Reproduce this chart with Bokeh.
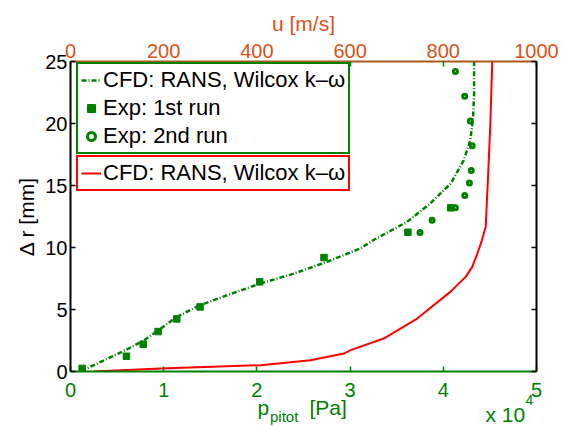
from bokeh.plotting import figure
from bokeh.models import (Range1d, LinearAxis, FixedTicker, Legend, LegendItem, GridBox, Column)
from bokeh.core.properties import value
from bokeh.embed import file_html
from bokeh.resources import INLINE

# ---- data ----
cfd_r = [0, 0.2, 0.51, 1.72, 2.52, 3.47, 4.4, 5.35, 6.15, 7.1, 7.9, 8.84, 9.92,
         10.6, 12.06, 13.55, 15.16, 17.04, 18.65, 20.53, 22.4, 25]
cfd_p = [1200, 1600, 2500, 5900, 7900, 9700, 11400, 13900, 16800, 20400, 24000,
         27500, 31100, 32500, 36100, 38600, 40800, 42200, 42900, 43200, 43300, 43300]

exp1_r = [0.25, 1.23, 2.2, 3.22, 4.24, 5.21, 7.23, 9.19, 11.23, 13.2]
exp1_p = [1250, 6000, 7800, 9400, 11400, 13900, 20300, 27200, 36200, 40800]

exp2_r = [11.2, 12.2, 13.2, 14.2, 15.2, 16.2, 18.2, 20.2, 22.2, 24.2]
exp2_p = [37500, 38800, 41300, 42300, 42800, 43000, 43100, 42900, 42300, 41300]

u_r = [0, 0.24, 0.51, 0.91, 1.45, 1.72, 2.66, 4.27, 6.42, 7.63, 8.44, 9.5, 10.6, 11.7,
       15.7, 20, 25]
u_v = [50, 193, 408, 515, 587, 601, 672, 744, 815, 848, 862, 873, 883, 891,
       896, 901, 905]

p_ticks = [0, 10000, 20000, 30000, 40000, 50000]
p_tick_labels = ["0", "1", "2", "3", "4", "5"]
u_ticks = [0, 200, 400, 600, 800, 1000]
r_ticks = [0, 5, 10, 15, 20, 25]

legend_label = "CFD: RANS, Wilcox k\u2013\u03c9"
x_label_main = ["p", "[Pa]"]
x_label_sub = ["pitot"]
x_mult_main = ["x 10"]
x_mult_sup = ["4"]

GREEN = "#008000"
RED = "#ff0000"
ORANGE = "#D95319"
FONT = "Liberation Sans"
W, H = 565, 426

p = figure(width=W, height=H, output_backend="svg", toolbar_location=None,
           x_range=Range1d(0, 50000), y_range=Range1d(0, 25),
           min_border_left=70, min_border_right=29, min_border_top=61, min_border_bottom=55,
           x_axis_location=None, y_axis_location=None)
p.extra_x_ranges = {"u": Range1d(0, 1000)}
p.grid.visible = False
p.outline_line_color = None
p.background_fill_color = "white"
p.border_fill_color = "white"

def style(ax, line_color, tick_color, label_color):
    ax.axis_line_color = line_color
    ax.axis_line_width = 2
    ax.major_tick_line_color = tick_color
    ax.major_tick_line_width = 1.5
    ax.major_tick_in = 5
    ax.major_tick_out = 0
    ax.minor_tick_line_color = None
    ax.major_label_text_color = label_color
    ax.major_label_text_font = FONT
    ax.major_label_text_font_size = "20px"
    ax.axis_label_text_font = FONT
    ax.axis_label_text_font_size = "21px"
    ax.axis_label_text_font_style = "normal"
    ax.axis_label_text_color = label_color

bottom = LinearAxis(ticker=FixedTicker(ticks=p_ticks),
                    major_label_overrides={t: l for t, l in zip(p_ticks, p_tick_labels)})
style(bottom, GREEN, GREEN, GREEN)
bottom.major_label_standoff = 11
p.add_layout(bottom, "below")

top = LinearAxis(x_range_name="u", ticker=FixedTicker(ticks=u_ticks), axis_label="u [m/s]")
style(top, "#a85a1c", GREEN, ORANGE)
top.major_label_standoff = 4
top.axis_label_standoff = 6
p.add_layout(top, "above")

left = LinearAxis(ticker=FixedTicker(ticks=r_ticks), axis_label="\u0394 r [mm]")
style(left, "black", "black", "black")
left.major_label_standoff = 3
left.axis_label_standoff = 4
p.add_layout(left, "left")

right = LinearAxis(ticker=FixedTicker(ticks=r_ticks),
                   major_label_overrides={t: "" for t in r_ticks})
style(right, "black", "black", "black")
right.major_label_standoff = 0
p.add_layout(right, "right")

# ---- glyphs ----
r_cfd = p.line(cfd_p, cfd_r, line_color=GREEN, line_width=2.5, line_dash="5 2 1 2")
r_e1 = p.scatter(exp1_p, exp1_r, marker="square", size=6.5, fill_color=GREEN, line_color=GREEN)
r_e2 = p.scatter(exp2_p, exp2_r, marker="circle", size=4, fill_color="white",
                 line_color=GREEN, line_width=3)
r_u = p.line(u_v, u_r, x_range_name="u", line_color=RED, line_width=2)

def make_legend(items, loc, color):
    lg = Legend(items=items, location=loc, orientation="vertical")
    lg.border_line_color = color
    lg.border_line_alpha = 1
    lg.border_line_width = 2
    lg.background_fill_color = "white"
    lg.background_fill_alpha = 1
    lg.label_text_font = FONT
    lg.label_text_font_size = "22px"
    lg.label_text_color = "black"
    lg.glyph_width = 20
    lg.glyph_height = 22
    lg.label_height = 22
    lg.label_standoff = 2
    lg.padding = 3
    lg.spacing = 2
    lg.margin = 0
    return lg

lg1 = make_legend([LegendItem(label=legend_label, renderers=[r_cfd]),
                   LegendItem(label="Exp: 1st run", renderers=[r_e1]),
                   LegendItem(label="Exp: 2nd run", renderers=[r_e2])], (6, 217), GREEN)
lg2 = make_legend([LegendItem(label=legend_label, renderers=[r_u])], (6, 180), RED)
p.add_layout(lg1)
p.add_layout(lg2)

# ---- transparent overlay (pixel coordinates) for the x-axis label with subscript ----
q = figure(width=W, height=H, output_backend="svg", toolbar_location=None,
           x_range=Range1d(0, W), y_range=Range1d(H, 0), min_border=0,
           x_axis_location=None, y_axis_location=None)
q.grid.visible = False
q.outline_line_color = None
q.background_fill_alpha = 0
q.border_fill_alpha = 0

def txt(xs, ys, texts, size):
    q.text(x=xs, y=ys, text=texts, text_font=value(FONT), text_font_size=size,
           text_color=GREEN, text_baseline="alphabetic", text_align="left")

txt([257, 309], [406.5, 407], x_label_main, "21px")
txt([269.5], [416], x_label_sub, "15px")
txt([485], [413.5], x_mult_main, "21px")
txt([525], [399.5], x_mult_sup, "14px")

grid = GridBox(children=[(p, 0, 0), (Column(children=[q]), 0, 0)])

open("out.html", "w").write(file_html(grid, INLINE))
